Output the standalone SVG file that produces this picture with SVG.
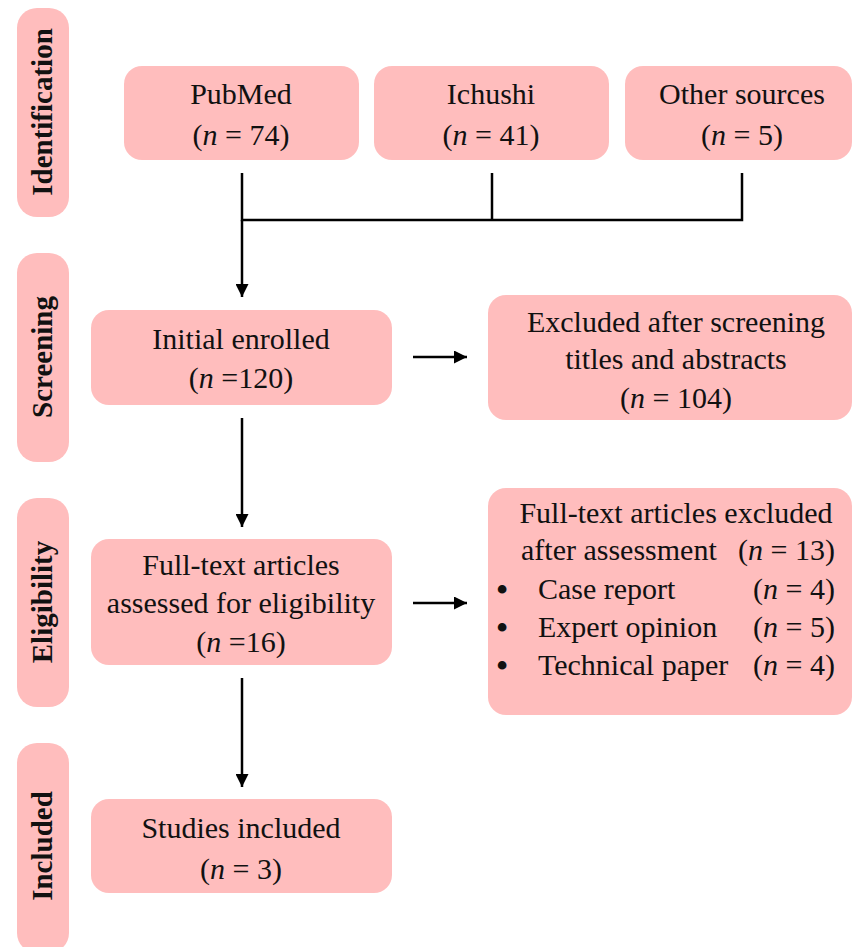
<svg xmlns="http://www.w3.org/2000/svg" width="852" height="947" viewBox="0 0 852 947">
<style>
.box{fill:#FFBDBD;}
.t{font-family:"Liberation Serif","Times New Roman",serif;font-size:30px;fill:#111;text-anchor:middle;}
.ts{font-family:"Liberation Serif","Times New Roman",serif;font-size:30px;fill:#111;}
.bul{font-family:"Liberation Serif","Times New Roman",serif;font-size:32px;font-weight:bold;fill:#111;text-anchor:middle;}
.side{font-family:"Liberation Serif","Times New Roman",serif;font-size:29px;font-weight:bold;fill:#111;text-anchor:middle;}
.ln{stroke:#000;stroke-width:2.5;fill:none;}
</style>
<defs>
<marker id="ah" viewBox="0 0 12 12" refX="12" refY="6" markerWidth="13" markerHeight="13" markerUnits="userSpaceOnUse" orient="auto">
<path d="M0,0 L12,6 L0,12 Z" fill="#000"/>
</marker>
</defs>
<rect width="852" height="947" fill="#fff"/>

<g id="side-identification"><rect class="box" x="17" y="8" width="52" height="209" rx="20"/><text class="side" transform="translate(52,112) rotate(-90)">Identification</text></g>
<g id="side-screening"><rect class="box" x="17" y="253" width="52" height="209" rx="20"/><text class="side" transform="translate(52,357) rotate(-90)">Screening</text></g>
<g id="side-eligibility"><rect class="box" x="17" y="498" width="52" height="209" rx="20"/><text class="side" transform="translate(52,602) rotate(-90)">Eligibility</text></g>
<g id="side-included"><rect class="box" x="17" y="743" width="52" height="210" rx="20"/><text class="side" transform="translate(52,846) rotate(-90)">Included</text></g>

<g id="pubmed"><rect class="box" x="124" y="66" width="235" height="94" rx="18"/><text class="t" x="241" y="104">PubMed</text><text class="t" x="241" y="145">(<tspan font-style="italic">n</tspan> = 74)</text></g>
<g id="ichushi"><rect class="box" x="374" y="66" width="235" height="94" rx="18"/><text class="t" x="491" y="104">Ichushi</text><text class="t" x="491" y="145">(<tspan font-style="italic">n</tspan> = 41)</text></g>
<g id="other"><rect class="box" x="625" y="66" width="227" height="94" rx="18"/><text class="t" x="742" y="104">Other sources</text><text class="t" x="742" y="145">(<tspan font-style="italic">n</tspan> = 5)</text></g>

<g id="initial"><rect class="box" x="91" y="310" width="301" height="95" rx="18"/><text class="t" x="241" y="349">Initial enrolled</text><text class="t" x="241" y="388">(<tspan font-style="italic">n</tspan> =120)</text></g>
<g id="excluded-screening"><rect class="box" x="488" y="295" width="364" height="125" rx="18"/><text class="t" x="676" y="332">Excluded after screening</text><text class="t" x="676" y="369">titles and abstracts</text><text class="t" x="676" y="408">(<tspan font-style="italic">n</tspan> = 104)</text></g>

<g id="fulltext"><rect class="box" x="91" y="539" width="301" height="126" rx="18"/><text class="t" x="241" y="575">Full-text articles</text><text class="t" x="241" y="613">assessed for eligibility</text><text class="t" x="241" y="652">(<tspan font-style="italic">n</tspan> =16)</text></g>
<g id="excluded-fulltext"><rect class="box" x="488" y="488" width="364" height="227" rx="18"/>
<text class="t" x="676" y="523">Full-text articles excluded</text>
<text class="ts" x="521" y="560">after assessment</text><text class="ts" x="835" y="560" text-anchor="end">(<tspan font-style="italic">n</tspan> = 13)</text>
<text class="bul" x="502" y="600">•</text><text class="ts" x="538" y="599">Case report</text><text class="ts" x="835" y="599" text-anchor="end">(<tspan font-style="italic">n</tspan> = 4)</text>
<text class="bul" x="502" y="638">•</text><text class="ts" x="538" y="637">Expert opinion</text><text class="ts" x="835" y="637" text-anchor="end">(<tspan font-style="italic">n</tspan> = 5)</text>
<text class="bul" x="502" y="676">•</text><text class="ts" x="538" y="675">Technical paper</text><text class="ts" x="835" y="675" text-anchor="end">(<tspan font-style="italic">n</tspan> = 4)</text>
</g>

<g id="studies"><rect class="box" x="91" y="799" width="301" height="94" rx="18"/><text class="t" x="241" y="838">Studies included</text><text class="t" x="241" y="879">(<tspan font-style="italic">n</tspan> = 3)</text></g>

<g id="connectors">
<path class="ln" d="M242,173 V220 H742 V173"/>
<path class="ln" d="M492,173 V220"/>
<path class="ln" d="M242,220 V297" marker-end="url(#ah)"/>
<path class="ln" d="M242,418 V527" marker-end="url(#ah)"/>
<path class="ln" d="M242,678 V787" marker-end="url(#ah)"/>
<path class="ln" d="M413,357 H467" marker-end="url(#ah)"/>
<path class="ln" d="M413,603 H467" marker-end="url(#ah)"/>
</g>
</svg>
